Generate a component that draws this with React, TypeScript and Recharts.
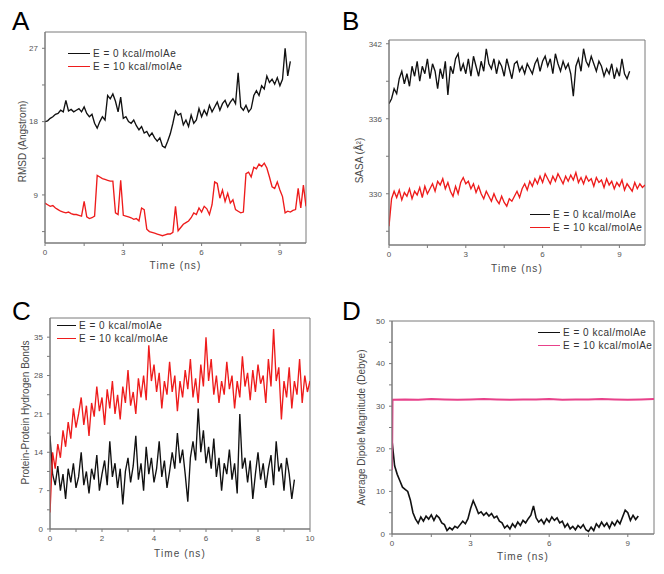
import React from "react";
import { LineChart, Line, XAxis, YAxis, ReferenceArea, Legend } from "recharts";

// all trajectories sampled every 0.1 ns
const STEP = 0.1;

// A: RMSD (Angstrom)
const rmsdE0 = [
  18.0, 18.1, 18.4, 18.6, 18.9, 19.0, 19.4, 19.2, 20.6, 19.3,
  19.5, 19.2, 19.4, 19.6, 19.2, 19.8, 19.0, 18.6, 18.9, 17.8,
  17.2, 18.0, 18.6, 18.2, 21.2, 20.8, 21.4, 20.5, 19.2, 21.0,
  18.4, 18.6, 18.0, 17.8, 18.2, 17.5, 17.0, 17.4, 16.6, 16.8,
  16.2, 16.6, 16.0, 15.6, 16.0, 15.0, 14.8, 15.6, 16.5, 17.8,
  19.3, 18.8, 19.0, 17.6, 18.2, 17.4, 18.8, 17.8, 18.2, 19.6,
  18.6, 19.4, 18.8, 20.0, 19.2, 19.8, 20.4, 19.4, 20.2, 20.6,
  19.8, 20.4, 20.8, 20.2, 24.0, 19.8, 19.4, 20.0, 19.2, 19.6,
  21.2, 21.8, 21.2, 22.4, 22.0, 23.6, 22.8, 23.2, 22.6, 23.4,
  22.4, 23.2, 27.0, 23.6, 25.4,
];
const rmsdE10 = [
  8.0, 7.8, 7.6, 7.7, 7.4, 7.2, 7.0, 6.9, 6.8, 6.9,
  6.7, 6.6, 6.6, 6.5, 6.4, 8.2, 6.3, 6.1, 6.2, 6.4,
  11.4, 11.2, 11.0, 10.9, 10.8, 10.7, 10.7, 6.8, 6.6, 10.8,
  6.5, 6.4, 6.3, 6.2, 6.0, 6.1, 5.8, 7.4, 7.2, 4.8,
  4.5, 4.4, 4.3, 4.2, 4.1, 4.0, 4.1, 4.2, 4.2, 4.4,
  7.6, 4.6, 5.0, 5.4, 5.6, 5.8, 6.2, 6.8, 6.6, 7.4,
  6.9, 7.6, 7.3, 6.6, 7.8, 10.6, 10.4, 8.6, 9.6, 8.2,
  9.2, 8.0, 8.4, 7.2, 7.0, 6.8, 6.9, 11.6, 11.8, 11.2,
  12.4, 12.2, 12.8, 12.5, 12.9, 12.3, 11.2, 10.0, 9.8, 10.6,
  9.6, 8.8, 6.8, 7.0, 6.9, 7.1, 7.2, 9.8, 7.4, 10.2,
  7.6,
];

// B: SASA
const sasaE0 = [
  337.2, 337.6, 338.4, 338.0, 339.2, 339.8, 338.8, 339.6, 338.6, 340.2,
  339.4, 340.6, 339.0, 340.2, 339.6, 340.8, 339.2, 340.4, 339.8, 338.4,
  340.0, 339.2, 340.6, 337.9, 340.2, 339.6, 340.8, 341.2, 339.8, 340.4,
  339.6, 340.8, 339.4, 341.0, 340.2, 339.4, 340.6, 339.8, 341.6, 340.4,
  340.0, 340.8, 339.6, 340.6, 340.2, 339.4, 340.8, 340.0, 339.2, 340.4,
  340.6, 339.8, 340.2, 339.6, 340.4, 340.0, 339.6, 340.4, 340.8, 339.8,
  340.6, 341.0, 340.2, 340.8, 339.6, 341.2, 340.4, 339.8, 340.6, 340.0,
  340.4, 339.6, 337.8, 340.2, 340.8, 339.8, 341.6, 340.6, 340.2, 341.0,
  340.4, 339.8, 340.6, 340.2, 339.4, 340.0, 339.6, 340.4, 339.2, 340.0,
  339.4, 340.8, 339.6, 339.2, 339.8,
];
const sasaE10 = [
  327.4, 329.6, 330.2, 329.7, 330.3, 329.5, 330.1, 329.8, 330.4, 329.6,
  330.2, 329.9, 330.5, 329.7, 330.6, 330.0, 330.4, 330.8, 330.2, 331.0,
  330.7, 331.2, 330.4, 330.9, 330.2, 329.8, 330.6, 330.0, 330.9, 331.3,
  330.8, 331.0, 330.4, 330.8, 330.1, 330.6, 330.0, 329.6, 330.2, 329.8,
  329.4, 330.0, 329.5, 329.2, 329.8, 329.3, 329.0, 329.6, 329.4, 329.8,
  330.2, 329.7, 330.4, 330.8, 330.3, 331.0, 330.6, 331.2, 330.8, 331.4,
  330.9, 331.6, 331.2, 330.8, 331.4, 331.0, 331.6, 331.2, 330.8, 331.4,
  331.0, 331.5, 331.1, 331.7, 330.9, 331.3, 330.8, 331.4, 331.0, 331.2,
  330.6, 331.3, 330.9, 331.1, 330.5, 331.2, 330.7, 331.0, 330.4, 330.9,
  330.6, 331.1, 330.3, 330.8, 330.5, 330.2, 330.9, 330.4, 330.8, 330.5,
  330.7,
];

// C: protein-protein hydrogen bonds
const hbondE0 = [
  17, 10, 8, 11.5, 7, 10, 5.5, 11, 8.5, 12,
  7.5, 9.5, 14, 8, 10.5, 6.5, 11, 9, 13.5, 7,
  10, 12.5, 8, 16, 9.5, 12, 7.5, 11, 4.5, 10.5,
  13, 8.5, 11.5, 17, 9, 12, 7, 15, 10, 13,
  8.5, 11, 16, 9.5, 12.5, 7.5, 10.5, 14, 11, 17.5,
  12, 14.5, 10, 5, 13, 16, 12.5, 22, 14, 18,
  12, 15, 11, 16.5, 9.5, 13, 7, 12, 10, 14.5,
  9, 12, 6.5, 21, 11, 13, 8.5, 12.5, 5.5, 10,
  14, 9, 12, 7.5, 11, 13.5, 8, 16, 10.5, 12,
  7, 13, 10, 5.5, 9,
];
const hbondE10 = [
  3, 14, 11, 15.5, 13, 18, 15, 19.5, 16.5, 22,
  18.5, 21, 24, 19, 22.5, 17, 23, 20.5, 26, 21.5,
  24, 19, 25.5, 22, 27, 21, 24.5, 20, 26, 23,
  29, 22.5, 25, 21, 27.5, 24, 28, 23.5, 33.5, 27,
  30, 25, 28.5, 22, 27, 24.5, 30.5, 25, 28, 21.5,
  27, 24, 29, 25.5, 31, 24, 27.5, 23, 30, 26,
  35, 27, 31, 24.5, 28, 23, 27, 24.5, 30.5, 25.5,
  28, 22, 27, 24, 31.5, 26, 28.5, 23.5, 29, 25,
  30, 26.5, 28, 23, 31, 26, 36.5, 27, 29.5, 20,
  27, 24, 29.5, 22, 27, 24.5, 31, 23, 28, 25,
  27,
];

// D: average dipole magnitude (Debye)
const dipoleE0 = [
  22, 16, 14, 12.5, 11, 10.5, 10, 8, 5, 3.5,
  2.5, 4, 3, 4.2, 3.5, 4.5, 3.2, 4.4, 3.8, 2.6,
  2.2, 0.8, 1.5, 1.0, 1.8, 1.4, 2.2, 3.0, 2.4, 3.6,
  6.0, 7.8, 6.4, 4.8, 5.2, 4.4, 5.0, 4.2, 4.8, 3.8,
  4.2, 3.0, 2.6, 1.4, 2.0, 1.2, 2.4, 1.6, 2.8, 2.0,
  3.2, 2.6, 3.6, 4.4, 6.6, 3.8, 2.8, 3.4, 2.4, 3.6,
  2.8, 4.0, 3.2, 3.8, 2.6, 3.0, 1.6, 2.4, 1.2, 1.8,
  1.0, 2.0, 1.4, 2.2, 1.0, 0.6, 1.6, 0.8, 2.4, 1.6,
  2.8, 1.8, 2.6, 1.4, 2.8, 2.0, 3.2, 2.4, 4.0, 5.6,
  5.0, 3.2, 4.4, 3.4, 4.2,
];
const dipoleE10Times = [0, 0.02, 0.5, 1, 1.5, 2, 2.5, 3, 3.5, 4, 4.5, 5, 5.5, 6, 6.5, 7, 7.5, 8, 8.5, 9, 9.5, 10];
const dipoleE10 = [15, 31.5, 31.6, 31.5, 31.7, 31.6, 31.5, 31.6, 31.7, 31.6, 31.5, 31.6, 31.6, 31.7, 31.5, 31.6, 31.6, 31.7, 31.6, 31.5, 31.6, 31.7];

const C = {
  black: "#111111",
  red: "#ee1c1c",
  pink: "#e8418a",
  frame: "#7a7a7a",
  text: "#4a4a4a",
  tick: "#555555",
};
const FONT = "'Liberation Sans', Arial, sans-serif";

type Pt = { t: number; v: number };
const sampled = (vals: number[]): Pt[] => vals.map((v, i) => ({ t: +(i * STEP).toFixed(2), v }));
const paired = (ts: number[], vals: number[]): Pt[] => ts.map((t, i) => ({ t, v: vals[i] }));

const LEGEND_E0 = "E = 0 kcal/molAe";
const LEGEND_E10 = "E = 10 kcal/molAe";

// rotated y title, placed against the axis box
function YTitle({ viewBox, text, x, shift }: any) {
  const cy = viewBox.y + viewBox.height / 2 + shift;
  return (
    <text x={x} y={cy} transform={`rotate(-90 ${x} ${cy})`} textAnchor="middle" dominantBaseline="central"
      fontSize={10} fill={C.text} fontFamily={FONT}>
      {text}
    </text>
  );
}

function XTitle({ viewBox, text, base }: any) {
  return (
    <text x={viewBox.x + viewBox.width / 2} y={viewBox.y + base} textAnchor="middle" fontSize={10}
      letterSpacing={1.1} fill={C.text} fontFamily={FONT}>
      {text}
    </text>
  );
}

function LegendBox({ items, lineW }: { items: { name: string; color: string }[]; lineW: number }) {
  return (
    <div style={{ fontFamily: FONT, fontSize: 10, letterSpacing: 0.5, color: "#333" }}>
      {items.map((it) => (
        <div key={it.name} style={{ display: "flex", alignItems: "center", height: 13 }}>
          <span style={{ width: lineW, height: 0, borderTop: `1.5px solid ${it.color}`, marginRight: 3 }} />
          <span style={{ whiteSpace: "nowrap" }}>{it.name}</span>
        </div>
      ))}
    </div>
  );
}

interface PanelProps {
  letter: string;
  left: number;
  top: number;
  width: number;
  height: number;
  margin: { top: number; right: number; bottom: number; left: number };
  yWidth: number;
  xTicks: number[];
  xMajor: number;
  xBase: number;
  yDomain: [number, number];
  yTicks: number[];
  yMajor: number;
  yTitle: string;
  yTitleX: number;
  yTitleShift: number;
  series: { name: string; color: string; data: Pt[]; width?: number }[];
  legendPos: { top: number; left: number };
  legendLine: number;
}

const isMajor = (v: number, m: number) => Math.abs(v / m - Math.round(v / m)) < 1e-6;

function Panel(p: PanelProps) {
  const tickStyle = { fontSize: 8, fill: C.tick, fontFamily: FONT };
  return (
    <div style={{ position: "absolute", left: p.left, top: p.top, width: p.width, height: p.height }}>
      <div style={{ position: "absolute", left: 12, top: 8, fontFamily: FONT, fontSize: 26, lineHeight: "26px", color: "#000", zIndex: 2 }}>
        {p.letter}
      </div>
      <LineChart width={p.width} height={p.height} margin={p.margin}>
        <XAxis
          type="number"
          dataKey="t"
          domain={[0, 10]}
          ticks={p.xTicks}
          allowDataOverflow
          height={30}
          interval={0}
          stroke={C.frame}
          tickSize={3}
          tickMargin={3}
          tick={tickStyle}
          tickFormatter={(v: number) => (isMajor(v, p.xMajor) ? String(v) : "")}
          label={<XTitle text="Time (ns)" base={p.xBase} />}
        />
        <YAxis
          type="number"
          domain={p.yDomain}
          ticks={p.yTicks}
          allowDataOverflow
          width={p.yWidth}
          interval={0}
          stroke={C.frame}
          tickSize={3}
          tickMargin={4}
          tick={tickStyle}
          tickFormatter={(v: number) => (isMajor(v, p.yMajor) ? String(v) : "")}
          label={<YTitle text={p.yTitle} x={p.yTitleX} shift={p.yTitleShift} />}
        />
        {p.series.map((s) => (
          <Line
            key={s.name}
            data={s.data}
            dataKey="v"
            name={s.name}
            type="linear"
            stroke={s.color}
            strokeWidth={s.width ?? 1.35}
            strokeLinejoin="miter"
            dot={false}
            activeDot={false}
            isAnimationActive={false}
          />
        ))}
        <ReferenceArea x1={0} x2={10} y1={p.yDomain[0]} y2={p.yDomain[1]} fill="none" stroke={C.frame} strokeWidth={1} ifOverflow="visible" />
        <Legend
          layout="vertical"
          align="center"
          verticalAlign="middle"
          wrapperStyle={{ top: p.legendPos.top, left: p.legendPos.left, width: "auto" }}
          content={() => <LegendBox items={p.series.map((s) => ({ name: s.name, color: s.color }))} lineW={p.legendLine} />}
        />
      </LineChart>
    </div>
  );
}

export default function App() {
  return (
    <div style={{ position: "absolute", left: 0, top: 0, width: 664, height: 574, background: "#fff", overflow: "hidden" }}>
      <Panel
        letter="A"
        left={0}
        top={0}
        width={330}
        height={290}
        margin={{ top: 32, right: 24, bottom: 17, left: 0 }}
        yWidth={45}
        xTicks={[0, 1.5, 3, 4.5, 6, 7.5, 9]}
        xMajor={3}
        xBase={26}
        yDomain={[3.1, 29]}
        yTicks={[4.5, 9, 13.5, 18, 22.5, 27]}
        yMajor={9}
        yTitle="RMSD (Angstrom)"
        yTitleX={13}
        yTitleShift={4}
        series={[
          { name: LEGEND_E0, color: C.black, data: sampled(rmsdE0) },
          { name: LEGEND_E10, color: C.red, data: sampled(rmsdE10) },
        ]}
        legendPos={{ top: 47, left: 68 }}
        legendLine={22}
      />
      <Panel
        letter="B"
        left={330}
        top={0}
        width={334}
        height={290}
        margin={{ top: 40, right: 19, bottom: 15, left: 0 }}
        yWidth={59}
        xTicks={[0, 1.5, 3, 4.5, 6, 7.5, 9]}
        xMajor={3}
        xBase={27}
        yDomain={[325.9, 342.3]}
        yTicks={[327, 330, 333, 336, 339, 342]}
        yMajor={6}
        yTitle="SASA (Å²)"
        yTitleX={22}
        yTitleShift={18}
        series={[
          { name: LEGEND_E0, color: C.black, data: sampled(sasaE0) },
          { name: LEGEND_E10, color: C.red, data: sampled(sasaE10) },
        ]}
        legendPos={{ top: 208, left: 200 }}
        legendLine={20}
      />
      <Panel
        letter="C"
        left={0}
        top={290}
        width={330}
        height={284}
        margin={{ top: 28, right: 20, bottom: 15, left: 0 }}
        yWidth={50}
        xTicks={[0, 1, 2, 3, 4, 5, 6, 7, 8, 9, 10]}
        xMajor={2}
        xBase={28}
        yDomain={[0, 38.5]}
        yTicks={[0, 3.5, 7, 10.5, 14, 17.5, 21, 24.5, 28, 31.5, 35]}
        yMajor={7}
        yTitle="Protein-Protein Hydrogen Bonds"
        yTitleX={15}
        yTitleShift={-11}
        series={[
          { name: LEGEND_E0, color: C.black, data: sampled(hbondE0) },
          { name: LEGEND_E10, color: C.red, data: sampled(hbondE10) },
        ]}
        legendPos={{ top: 29, left: 57 }}
        legendLine={19}
      />
      <Panel
        letter="D"
        left={330}
        top={290}
        width={334}
        height={284}
        margin={{ top: 31, right: 10, bottom: 10, left: 0 }}
        yWidth={62}
        xTicks={[0, 1.5, 3, 4.5, 6, 7.5, 9]}
        xMajor={3}
        xBase={26}
        yDomain={[0, 50]}
        yTicks={[0, 5, 10, 15, 20, 25, 30, 35, 40, 45, 50]}
        yMajor={10}
        yTitle="Average Dipole Magnitude (Debye)"
        yTitleX={32}
        yTitleShift={0}
        series={[
          { name: LEGEND_E0, color: C.black, data: sampled(dipoleE0), width: 1.6 },
          { name: LEGEND_E10, color: C.pink, data: paired(dipoleE10Times, dipoleE10), width: 2 },
        ]}
        legendPos={{ top: 36, left: 208 }}
        legendLine={22}
      />
    </div>
  );
}
